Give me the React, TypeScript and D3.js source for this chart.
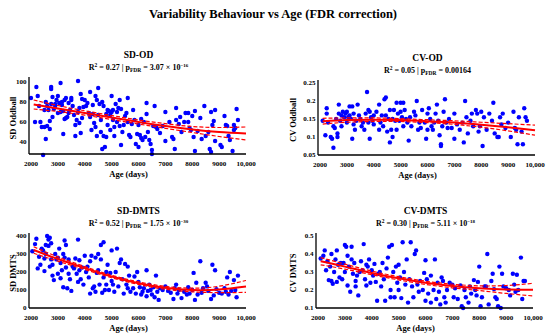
import React from 'react'
import * as d3 from 'd3'

// ---- data ----
const fitAges = [2100, 3000, 4000, 5000, 6000, 7000, 8000, 9000, 10000]

// SD-OD
const sdOdPoints: [number, number][] = [
  [2000, 84], [2150, 60], [2200, 95], [2250, 86], [2300, 76], [2350, 60], [2400, 55], [2450, 27], [2500, 55], [2500, 72],
  [2550, 43], [2550, 80], [2600, 76], [2600, 56], [2650, 72], [2700, 61], [2700, 53], [2750, 95], [2750, 93], [2750, 78],
  [2800, 85], [2800, 65], [2850, 73], [2900, 76], [2900, 78], [2950, 82], [3000, 86], [3000, 69], [3050, 79], [3100, 99],
  [3100, 70], [3150, 80], [3150, 77], [3200, 48], [3200, 71], [3250, 82], [3250, 63], [3300, 84], [3300, 64], [3350, 65],
  [3400, 69], [3400, 79], [3450, 72], [3500, 84], [3500, 82], [3550, 76], [3600, 67], [3650, 46], [3650, 57], [3700, 62],
  [3750, 101], [3750, 70], [3800, 74], [3800, 59], [3850, 49], [3850, 88], [3900, 83], [3900, 64], [3950, 75], [4000, 82],
  [4050, 76], [4100, 79], [4150, 69], [4200, 90], [4200, 65], [4250, 52], [4300, 77], [4300, 68], [4350, 59], [4400, 86],
  [4400, 55], [4450, 46], [4450, 82], [4500, 94], [4500, 67], [4550, 78], [4600, 62], [4600, 50], [4650, 80], [4650, 33],
  [4700, 76], [4700, 46], [4750, 35], [4800, 68], [4800, 45], [4850, 57], [4850, 72], [4900, 71], [4950, 67], [4950, 52],
  [5000, 86], [5000, 70], [5050, 62], [5050, 72], [5100, 46], [5100, 55], [5150, 78], [5200, 70], [5200, 60], [5250, 74],
  [5300, 82], [5300, 56], [5350, 73], [5350, 37], [5400, 50], [5450, 57], [5500, 66], [5550, 69], [5600, 84], [5600, 60],
  [5650, 47], [5700, 45], [5750, 58], [5800, 72], [5850, 62], [5900, 38], [5950, 48], [6000, 57], [6000, 35], [6050, 47],
  [6100, 63], [6100, 44], [6150, 42], [6200, 60], [6250, 45], [6300, 79], [6300, 68], [6350, 50], [6400, 42], [6450, 38],
  [6500, 32], [6500, 28], [6550, 56], [6600, 76], [6650, 55], [6700, 53], [6800, 49], [6900, 56], [7000, 70], [7000, 41],
  [7150, 60], [7250, 45], [7300, 43], [7350, 33], [7400, 74], [7400, 62], [7500, 58], [7550, 65], [7600, 50], [7700, 60],
  [7750, 69], [7850, 69], [7850, 60], [7900, 54], [7950, 52], [8000, 66], [8050, 45], [8100, 71], [8100, 31], [8200, 51],
  [8300, 64], [8350, 43], [8450, 76], [8500, 46], [8600, 50], [8650, 33], [8700, 30], [8700, 70], [8750, 57], [8800, 61],
  [8850, 72], [8850, 41], [9050, 37], [9100, 35], [9200, 66], [9250, 57], [9300, 56], [9350, 46], [9400, 42], [9500, 31],
  [9550, 52], [9550, 57], [9600, 54], [9650, 73], [9700, 62],
]
const sdOdFit = [77.5, 73.5, 69, 64.5, 60, 56, 52.5, 50, 48.5]
const sdOdCi = [4.5, 3, 2.2, 2, 2, 2.3, 3, 4.5, 6.5]

// CV-OD
const cvOdPoints: [number, number][] = [
  [2100, 0.145], [2200, 0.105], [2250, 0.18], [2250, 0.165], [2300, 0.14], [2400, 0.1], [2450, 0.095], [2500, 0.13], [2500, 0.07], [2550, 0.125],
  [2600, 0.15], [2650, 0.1], [2650, 0.11], [2700, 0.19], [2700, 0.165], [2750, 0.145], [2800, 0.16], [2800, 0.13], [2850, 0.17], [2900, 0.155],
  [2950, 0.165], [3000, 0.17], [3000, 0.14], [3050, 0.155], [3100, 0.185], [3100, 0.16], [3150, 0.15], [3200, 0.095], [3200, 0.185], [3250, 0.135],
  [3250, 0.165], [3300, 0.12], [3350, 0.145], [3400, 0.19], [3450, 0.16], [3500, 0.15], [3550, 0.13], [3600, 0.14], [3650, 0.12], [3700, 0.165],
  [3750, 0.225], [3800, 0.14], [3800, 0.175], [3850, 0.095], [3850, 0.17], [3900, 0.155], [3950, 0.145], [4000, 0.16], [4000, 0.135], [4100, 0.17],
  [4200, 0.19], [4200, 0.12], [4250, 0.14], [4300, 0.16], [4350, 0.13], [4400, 0.205], [4450, 0.21], [4450, 0.16], [4500, 0.115], [4550, 0.15],
  [4600, 0.085], [4600, 0.175], [4650, 0.12], [4700, 0.1], [4700, 0.15], [4750, 0.175], [4800, 0.145], [4850, 0.195], [4850, 0.12], [4900, 0.165],
  [4950, 0.145], [5000, 0.195], [5000, 0.17], [5050, 0.155], [5100, 0.195], [5100, 0.13], [5150, 0.175], [5200, 0.15], [5250, 0.14], [5300, 0.09],
  [5350, 0.155], [5400, 0.13], [5500, 0.17], [5550, 0.16], [5600, 0.2], [5650, 0.12], [5700, 0.14], [5750, 0.125], [5800, 0.175], [5900, 0.14],
  [5950, 0.095], [6000, 0.165], [6000, 0.12], [6050, 0.18], [6100, 0.15], [6150, 0.13], [6200, 0.12], [6250, 0.14], [6300, 0.165], [6350, 0.19],
  [6400, 0.145], [6450, 0.105], [6500, 0.08], [6500, 0.075], [6550, 0.13], [6600, 0.17], [6650, 0.205], [6700, 0.14], [6750, 0.125], [6800, 0.15],
  [6900, 0.125], [7000, 0.165], [7000, 0.095], [7100, 0.135], [7200, 0.12], [7300, 0.14], [7350, 0.085], [7400, 0.2], [7450, 0.155], [7500, 0.11],
  [7600, 0.145], [7650, 0.165], [7700, 0.13], [7800, 0.175], [7850, 0.165], [7900, 0.115], [7950, 0.13], [8000, 0.17], [8050, 0.075], [8100, 0.155],
  [8200, 0.12], [8300, 0.165], [8400, 0.145], [8450, 0.195], [8500, 0.11], [8600, 0.1], [8650, 0.1], [8700, 0.155], [8750, 0.135], [8800, 0.165],
  [8900, 0.125], [9000, 0.14], [9100, 0.1], [9200, 0.17], [9250, 0.125], [9300, 0.12], [9350, 0.08], [9400, 0.155], [9500, 0.115], [9550, 0.08],
  [9600, 0.18], [9650, 0.155], [9700, 0.145],
]
const cvOdFit = [0.144, 0.147, 0.148, 0.147, 0.144, 0.14, 0.134, 0.127, 0.119]
const cvOdCi = [0.008, 0.006, 0.005, 0.004, 0.004, 0.005, 0.007, 0.01, 0.014]

// SD-DMTS
const sdDmtsPoints: [number, number][] = [
  [2050, 315], [2150, 355], [2200, 385], [2250, 220], [2300, 285], [2350, 240], [2400, 330], [2450, 320], [2500, 275], [2500, 205],
  [2550, 300], [2550, 350], [2600, 400], [2650, 345], [2650, 380], [2700, 390], [2700, 230], [2750, 360], [2750, 270], [2800, 240],
  [2800, 180], [2850, 155], [2900, 300], [2950, 270], [3000, 280], [3000, 190], [3050, 330], [3100, 250], [3100, 165], [3150, 210],
  [3200, 300], [3200, 115], [3250, 375], [3250, 280], [3300, 350], [3300, 225], [3350, 110], [3400, 270], [3400, 190], [3450, 160],
  [3500, 95], [3550, 230], [3600, 220], [3650, 275], [3700, 190], [3750, 380], [3750, 145], [3800, 210], [3800, 265], [3850, 160],
  [3900, 225], [3950, 130], [4000, 290], [4050, 200], [4100, 230], [4150, 170], [4200, 80], [4200, 260], [4250, 290], [4300, 110],
  [4350, 120], [4400, 90], [4400, 280], [4450, 195], [4500, 300], [4500, 210], [4550, 130], [4600, 270], [4600, 350], [4650, 85],
  [4700, 365], [4700, 170], [4750, 100], [4800, 130], [4800, 200], [4850, 240], [4900, 100], [4950, 195], [5000, 320], [5000, 150],
  [5050, 130], [5100, 90], [5150, 200], [5200, 330], [5250, 120], [5300, 250], [5350, 270], [5400, 160], [5450, 80], [5500, 245],
  [5550, 130], [5600, 230], [5600, 110], [5650, 180], [5700, 90], [5800, 110], [5850, 175], [5900, 80], [5950, 200], [6000, 145],
  [6050, 115], [6100, 75], [6150, 90], [6200, 110], [6300, 210], [6300, 65], [6350, 95], [6400, 130], [6450, 100], [6500, 75],
  [6550, 115], [6600, 60], [6650, 180], [6700, 90], [6750, 45], [6800, 110], [6900, 100], [7000, 120], [7100, 95], [7200, 85],
  [7300, 50], [7350, 110], [7400, 130], [7450, 80], [7500, 100], [7600, 55], [7700, 90], [7800, 75], [7850, 115], [7900, 80],
  [8000, 100], [8050, 195], [8100, 45], [8150, 140], [8200, 75], [8300, 260], [8350, 85], [8400, 110], [8500, 140], [8550, 120],
  [8600, 95], [8700, 50], [8750, 240], [8800, 70], [8850, 210], [8900, 105], [9000, 85], [9100, 80], [9200, 110], [9250, 90],
  [9300, 170], [9350, 75], [9400, 200], [9450, 95], [9550, 155], [9600, 100], [9650, 60], [9700, 180],
]
const sdDmtsFit = [322, 272, 222, 175, 138, 112, 100, 103, 120]
const sdDmtsCi = [18, 12, 8, 7, 7, 8, 10, 18, 33]

// CV-DMTS
const cvDmtsPoints: [number, number][] = [
  [2100, 0.375], [2200, 0.39], [2250, 0.42], [2300, 0.31], [2350, 0.36], [2400, 0.255], [2450, 0.33], [2500, 0.4], [2500, 0.25], [2550, 0.235],
  [2600, 0.3], [2650, 0.37], [2700, 0.42], [2700, 0.245], [2750, 0.34], [2800, 0.27], [2850, 0.35], [2900, 0.26], [2950, 0.35], [3000, 0.45],
  [3000, 0.3], [3050, 0.44], [3100, 0.39], [3100, 0.225], [3150, 0.33], [3200, 0.19], [3250, 0.44], [3250, 0.37], [3300, 0.29], [3350, 0.35],
  [3400, 0.22], [3400, 0.25], [3450, 0.28], [3500, 0.17], [3550, 0.3], [3600, 0.36], [3650, 0.31], [3700, 0.455], [3750, 0.26], [3800, 0.34],
  [3800, 0.225], [3850, 0.33], [3900, 0.37], [3950, 0.24], [4000, 0.31], [4050, 0.28], [4100, 0.345], [4150, 0.245], [4200, 0.14], [4250, 0.29],
  [4300, 0.3], [4350, 0.22], [4400, 0.35], [4450, 0.26], [4500, 0.14], [4550, 0.32], [4600, 0.38], [4650, 0.44], [4700, 0.2], [4700, 0.16],
  [4750, 0.45], [4800, 0.3], [4850, 0.16], [4900, 0.33], [4950, 0.24], [5000, 0.34], [5000, 0.2], [5050, 0.27], [5100, 0.155], [5150, 0.465],
  [5200, 0.3], [5250, 0.23], [5300, 0.37], [5350, 0.13], [5400, 0.26], [5450, 0.465], [5500, 0.22], [5550, 0.16], [5600, 0.4], [5650, 0.42],
  [5700, 0.23], [5750, 0.19], [5800, 0.25], [5900, 0.2], [5950, 0.295], [6000, 0.365], [6000, 0.14], [6050, 0.26], [6100, 0.18], [6200, 0.28],
  [6200, 0.13], [6300, 0.2], [6350, 0.37], [6400, 0.15], [6450, 0.24], [6500, 0.19], [6550, 0.12], [6600, 0.27], [6650, 0.25], [6700, 0.16],
  [6750, 0.13], [6800, 0.2], [6900, 0.24], [7000, 0.23], [7050, 0.16], [7100, 0.21], [7200, 0.15], [7300, 0.225], [7350, 0.11], [7400, 0.1],
  [7450, 0.2], [7500, 0.16], [7600, 0.13], [7650, 0.22], [7700, 0.18], [7800, 0.255], [7850, 0.2], [7900, 0.17], [7950, 0.245], [8000, 0.33],
  [8050, 0.11], [8100, 0.16], [8200, 0.22], [8250, 0.22], [8300, 0.4], [8350, 0.12], [8450, 0.25], [8500, 0.29], [8550, 0.205], [8600, 0.16],
  [8650, 0.15], [8700, 0.11], [8750, 0.33], [8800, 0.1], [8850, 0.29], [8900, 0.22], [9000, 0.21], [9100, 0.2], [9150, 0.17], [9250, 0.29],
  [9300, 0.23], [9350, 0.19], [9400, 0.285], [9450, 0.2], [9550, 0.38], [9600, 0.15], [9650, 0.25], [9700, 0.25],
]
const cvDmtsFit = [0.36, 0.33, 0.295, 0.265, 0.24, 0.222, 0.21, 0.203, 0.202]
const cvDmtsCi = [0.02, 0.014, 0.01, 0.009, 0.009, 0.01, 0.013, 0.022, 0.035]

const xTicks = [2000, 3000, 4000, 5000, 6000, 7000, 8000, 9000, 10000]

const FONT = '"Liberation Serif", "Times New Roman", serif'

type PanelProps = {
  title: string
  r2: string
  p: string
  pExp?: string
  yLabel: string
  yLabelX: number
  points: [number, number][]
  fit: number[]
  ci: number[]
  yDomain: [number, number]
  yTicks: number[]
  yFmt: (v: number) => string
  x0: number
  x1: number
  yTop: number
  yBottom: number
}

const Panel = (p: PanelProps) => {
  const x = d3.scaleLinear().domain([2000, 10000]).range([p.x0, p.x1])
  const y = d3.scaleLinear().domain(p.yDomain).range([p.yBottom, p.yTop])
  const line = (vals: number[]) =>
    d3
      .line<number>()
      .x((_, i) => x(fitAges[i]))
      .y((d) => y(d))
      .curve(d3.curveNatural)(vals) || ''
  const upper = p.fit.map((v, i) => v + p.ci[i])
  const lower = p.fit.map((v, i) => v - p.ci[i])
  const axisX = p.x0 - 2
  const cx = (p.x0 + p.x1) / 2
  return (
    <g fontFamily={FONT} fontWeight="bold">
      <text x={cx} y={p.yTop - 22} textAnchor="middle" fontSize={9.5}>
        {p.title}
      </text>
      <text x={cx} y={p.yTop - 10} textAnchor="middle" fontSize={8}>
        R
        <tspan fontSize={5.5} dy={-3.5}>2</tspan>
        <tspan dy={3.5}>{` = ${p.r2} | p`}</tspan>
        <tspan fontSize={5.5} dy={2}>FDR</tspan>
        <tspan dy={-2}>{` = ${p.p}`}</tspan>
        {p.pExp ? (
          <tspan fontSize={5} dy={-3.5}>{p.pExp}</tspan>
        ) : null}
      </text>
      {p.points.map((d, i) => (
        <circle key={i} cx={x(d[0])} cy={y(d[1])} r={2.2} fill="#0000ff" />
      ))}
      <path d={line(upper)} fill="none" stroke="#ff0000" strokeWidth={1.2} strokeDasharray="4,2" />
      <path d={line(lower)} fill="none" stroke="#ff0000" strokeWidth={1.2} strokeDasharray="4,2" />
      <path d={line(p.fit)} fill="none" stroke="#ff0000" strokeWidth={2} />
      <line x1={axisX} x2={axisX} y1={p.yTop - 3} y2={p.yBottom} stroke="#000" strokeWidth={1.3} />
      <line x1={axisX} x2={p.x1} y1={p.yBottom} y2={p.yBottom} stroke="#000" strokeWidth={1.3} />
      {p.yTicks.map((t) => (
        <text key={t} x={axisX - 2.5} y={y(t)} dy="0.35em" textAnchor="end" fontSize={7}>
          {p.yFmt(t)}
        </text>
      ))}
      {xTicks.map((t) => (
        <text key={t} x={x(t)} y={p.yBottom + 9.5} dy="0.35em" textAnchor="middle" fontSize={7}>
          {t >= 10000 ? d3.format(',')(t) : t}
        </text>
      ))}
      <text x={cx - 10} y={p.yBottom + 20} dy="0.35em" textAnchor="middle" fontSize={8.5}>
        Age (days)
      </text>
      <text
        transform={`translate(${p.yLabelX},${(p.yTop + p.yBottom) / 2 + 1}) rotate(-90)`}
        dy="0.35em"
        textAnchor="middle"
        fontSize={8.5}
      >
        {p.yLabel}
      </text>
    </g>
  )
}

const App = () => {
  return (
    <svg width={550} height={336} style={{ position: 'absolute', left: 0, top: 0, background: '#fff' }}>
      <text x={273} y={18} textAnchor="middle" fontFamily={FONT} fontWeight="bold" fontSize={12.5}>
        Variability Behaviour vs Age (FDR correction)
      </text>
      <Panel
        title="SD-OD" r2="0.27" p="3.07 × 10" pExp="−16" yLabel="SD Oddball" yLabelX={13}
        points={sdOdPoints} fit={sdOdFit} ci={sdOdCi}
        yDomain={[28, 102]} yTicks={[40, 60, 80, 100]} yFmt={(v) => String(v)}
        x0={31} x1={246} yTop={80} yBottom={154}
      />
      <Panel
        title="CV-OD" r2="0.05" p="0.00164" yLabel="CV Oddball" yLabelX={293}
        points={cvOdPoints} fit={cvOdFit} ci={cvOdCi}
        yDomain={[0.05, 0.25]} yTicks={[0.05, 0.1, 0.15, 0.2, 0.25]} yFmt={(v) => String(+v.toFixed(2))}
        x0={320} x1={535} yTop={83} yBottom={155}
      />
      <Panel
        title="SD-DMTS" r2="0.52" p="1.75 × 10" pExp="−30" yLabel="SD DMTS" yLabelX={13}
        points={sdDmtsPoints} fit={sdDmtsFit} ci={sdDmtsCi}
        yDomain={[0, 400]} yTicks={[0, 100, 200, 300, 400]} yFmt={(v) => String(v)}
        x0={31} x1={246} yTop={236} yBottom={308}
      />
      <Panel
        title="CV-DMTS" r2="0.30" p="5.11 × 10" pExp="−18" yLabel="CV DMTS" yLabelX={293}
        points={cvDmtsPoints} fit={cvDmtsFit} ci={cvDmtsCi}
        yDomain={[0.1, 0.5]} yTicks={[0.1, 0.2, 0.3, 0.4, 0.5]} yFmt={(v) => String(+v.toFixed(1))}
        x0={318} x1={533} yTop={236} yBottom={308}
      />
    </svg>
  )
}

export default App
